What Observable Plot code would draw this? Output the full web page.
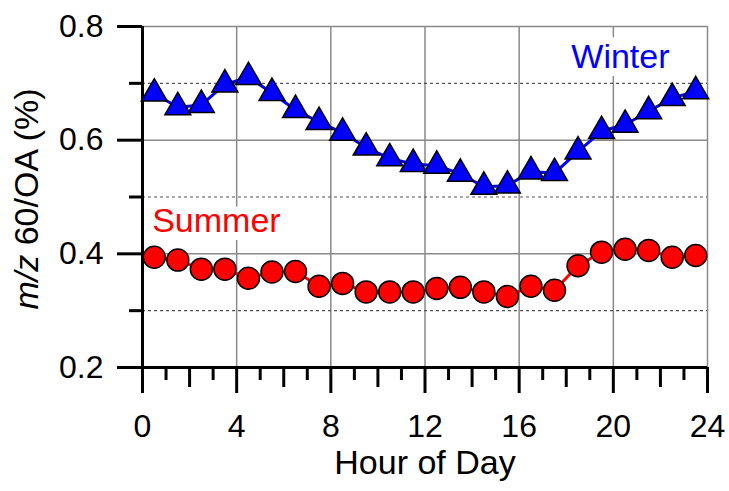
<!DOCTYPE html>
<html>
<head>
<meta charset="utf-8">
<script src="https://cdn.jsdelivr.net/npm/d3@7"></script>
<script src="https://cdn.jsdelivr.net/npm/@observablehq/plot@0.6"></script>
<style>
  html, body { margin: 0; padding: 0; background: #fff; }
  #chart svg { display: block; }
</style>
</head>
<body>
<div id="chart"></div>
<script>
// ---- data ----
const hours = [0.5, 1.5, 2.5, 3.5, 4.5, 5.5, 6.5, 7.5, 8.5, 9.5, 10.5, 11.5,
               12.5, 13.5, 14.5, 15.5, 16.5, 17.5, 18.5, 19.5, 20.5, 21.5, 22.5, 23.5];
const winter = [0.682, 0.658, 0.662, 0.698, 0.711, 0.683, 0.653, 0.632, 0.613, 0.587, 0.568, 0.558,
                0.555, 0.541, 0.518, 0.520, 0.545, 0.542, 0.580, 0.616, 0.627, 0.651, 0.674, 0.686];
const summer = [0.394, 0.389, 0.373, 0.373, 0.357, 0.368, 0.369, 0.343, 0.348, 0.333, 0.333, 0.333,
                0.339, 0.341, 0.333, 0.325, 0.343, 0.336, 0.379, 0.403, 0.408, 0.406, 0.394, 0.397];

const xMajorTicks = [0, 4, 8, 12, 16, 20, 24];
const xMediumTicks = [2, 6, 10, 14, 18, 22];
const xMinorTicks = [1, 3, 5, 7, 9, 11, 13, 15, 17, 19, 21, 23];
const yMajorTicks = [0.2, 0.4, 0.6, 0.8];
const yMinorTicks = [0.3, 0.5, 0.7];
const xGridSolid = [4, 8, 12, 16, 20, 24];
const yGridSolid = [0.4, 0.6, 0.8];
const yGridDashed = [0.3, 0.5, 0.7];

const seriesLabels = [
  {name: "Winter", hour: 20.3, value: 0.747, color: "#0000ff"},
  {name: "Summer", hour: 3.14, value: 0.458, color: "#ff0000"}
];
const xTitle = "Hour of Day";
const yTitle = "m/z 60/OA (%)";

const winterData = hours.map((h, i) => ({hour: h, value: winter[i]}));
const summerData = hours.map((h, i) => ({hour: h, value: summer[i]}));

const chart = Plot.plot({
  width: 729,
  height: 491,
  marginLeft: 142,
  marginRight: 22,
  marginTop: 26,
  marginBottom: 124,
  x: {domain: [0, 24], label: null},
  y: {domain: [0.2, 0.8], label: null},
  style: {fontFamily: "'Liberation Sans', Arial, sans-serif", fontSize: "32px", background: "white", color: "black"},
  marks: [
    // grid
    Plot.ruleX(xGridSolid, {stroke: "#8a8a8a", strokeWidth: 1.5}),
    Plot.ruleY(yGridSolid, {stroke: "#8a8a8a", strokeWidth: 1.5}),
    Plot.ruleY(yGridDashed, {stroke: "#555", strokeWidth: 1.2, strokeDasharray: "3,3"}),
    // axes lines
    Plot.ruleX([0], {stroke: "black", strokeWidth: 3}),
    Plot.ruleY([0.2], {stroke: "black", strokeWidth: 3}),
    // x ticks
    Plot.axisX({ticks: xMajorTicks, tickSize: 26, tickPadding: 21, strokeWidth: 3, label: null, tickFormat: d3.format("d")}),
    Plot.axisX({ticks: xMediumTicks, tickSize: 20, strokeWidth: 3, label: null, text: null}),
    Plot.axisX({ticks: xMinorTicks, tickSize: 13, strokeWidth: 3, label: null, text: null}),
    // y ticks
    Plot.axisY({ticks: yMajorTicks, tickSize: 25, tickPadding: 14, strokeWidth: 3, label: null, tickFormat: d3.format(".1f")}),
    Plot.axisY({ticks: yMinorTicks, tickSize: 13, strokeWidth: 3, label: null, text: null}),
    // titles
    Plot.text([xTitle], {frameAnchor: "bottom", textAnchor: "middle", lineAnchor: "middle", dy: 96, fontSize: 34, text: d => d}),
    Plot.text([yTitle], {frameAnchor: "left", textAnchor: "middle", lineAnchor: "middle", rotate: -90, dx: -115, dy: 2, fontSize: 34, text: d => d}),
    // series labels with white halo
    Plot.text(seriesLabels, {x: "hour", y: "value", text: "name", fill: "color", fontSize: 34,
      stroke: "white", strokeWidth: 16, paintOrder: "stroke", strokeLinejoin: "round"}),
    // lines
    Plot.line(winterData, {x: "hour", y: "value", stroke: "#0000ff", strokeWidth: 3}),
    Plot.line(summerData, {x: "hour", y: "value", stroke: "#ff0000", strokeWidth: 3}),
    // markers
    Plot.dot(winterData, {x: "hour", y: "value", symbol: "triangle", r: 9.6, fill: "#0000ff", stroke: "black", strokeWidth: 1.5}),
    Plot.dot(summerData, {x: "hour", y: "value", symbol: "circle", r: 11, fill: "#ff0000", stroke: "black", strokeWidth: 1.5})
  ]
});

document.getElementById("chart").appendChild(chart);

// italicize "m/z" in y-axis title
chart.querySelectorAll("text").forEach(t => {
  if (t.textContent === yTitle) {
    t.innerHTML = '<tspan font-style="italic">m/z</tspan> 60/OA (%)';
  }
});
</script>
</body>
</html>
